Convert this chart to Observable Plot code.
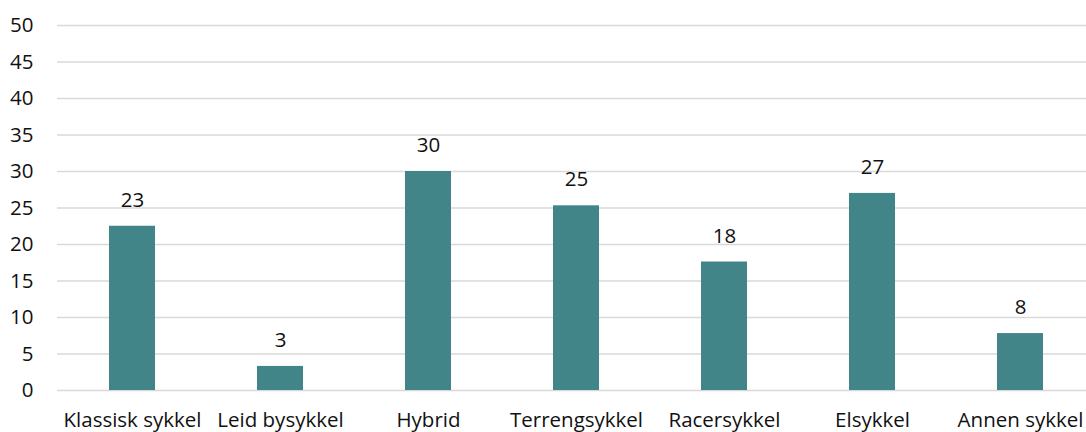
<!DOCTYPE html>
<html><head><meta charset="utf-8">
<script src="https://cdn.jsdelivr.net/npm/d3@7"></script>
<script src="https://cdn.jsdelivr.net/npm/@observablehq/plot@0.6"></script>
<style>body{margin:0;overflow:hidden;background:#fff}</style>
</head><body><div id="chart"></div>
<script>
const categories = ["Klassisk sykkel","Leid bysykkel","Hybrid","Terrengsykkel","Racersykkel","Elsykkel","Annen sykkel"];
const values = [22.5, 3.3, 30.0, 25.3, 17.6, 27.0, 7.8];
const labels = ["23","3","30","25","18","27","8"];
const yTicks = [0,5,10,15,20,25,30,35,40,45,50];
const data = categories.map((c,i)=>({cat:c, v:values[i], lab:labels[i]}));
const font = "'Open Sans', Lato, sans-serif";
const plot = Plot.plot({
  width: 1086, height: 432,
  marginLeft: 57, marginRight: -9, marginTop: 25, marginBottom: 42,
  style: {fontFamily: font, fontSize: "20.5px", color: "#111", background: "#fff", overflow: "hidden"},
  x: {domain: categories, paddingInner: 0.69, paddingOuter: 0.345, align: 0.5, label: null},
  y: {domain: [0,50], label: null},
  marks: [
    Plot.ruleY(yTicks, {stroke: "#d9d9d9", strokeWidth: 1.5}),
    Plot.axisY({ticks: yTicks, tickSize: 0, tickPadding: 24, label: null, fontSize: 20.5}),
    Plot.axisX({tickSize: 0, tickPadding: 22, label: null, fontSize: 20.5}),
    Plot.barY(data, {x: "cat", y: "v", fill: "#418589"}),
    Plot.text(data, {x: "cat", y: "v", text: "lab", dy: -26, fontSize: 20.5, fill: "#111"})
  ]
});
document.getElementById("chart").append(plot);
</script></body></html>
